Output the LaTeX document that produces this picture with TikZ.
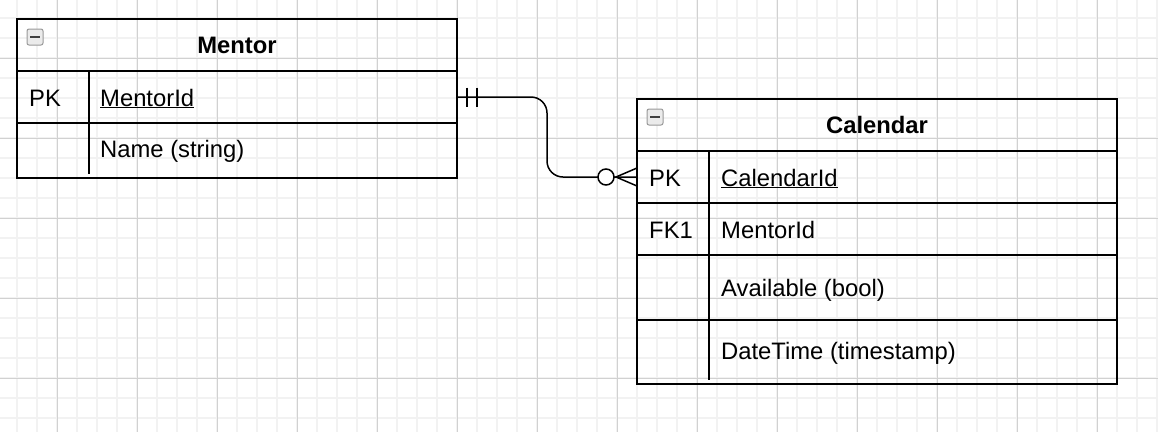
\documentclass[tikz,border=0pt]{standalone}
\usepackage{fontspec}
\setmainfont{Liberation Sans}
\usetikzlibrary{calc,positioning,shapes}

\begin{document}
\begin{tikzpicture}[x=1pt, y=-1pt]
\tikzstyle{minorgrid}=[draw=black!5, line width=2pt]
\tikzstyle{majorgrid}=[draw=black!18, line width=1pt]
\tikzstyle{table}=[rectangle, draw, line width=1.5pt, inner sep=0pt, outer sep=0pt,
                   anchor=north west, minimum width=440pt, minimum height=52pt,
                   font=\fontsize{23.8}{28}\selectfont\bfseries]
\tikzstyle{field}=[inner sep=0pt, anchor=base west, font=\fontsize{23.8}{28}\selectfont]
\tikzstyle{collapse}=[rectangle, rounded corners=2pt, draw=black!40, fill=black!8,
                      line width=1pt, minimum size=16pt, inner sep=0pt,
                      path picture={\draw[line width=2.5pt, black!75]
                        ([xshift=-5pt]path picture bounding box.center) --
                        ([xshift=5pt]path picture bounding box.center);}]
\tikzstyle{link}=[line width=1.5pt]

\useasboundingbox (0,0) rectangle (1158,432);
\fill[white] (0,0) rectangle (1158,432);
\foreach \x in {17,37,...,1157} \draw[minorgrid] (\x,0) -- (\x,432);
\foreach \y in {18,38,...,418} \draw[minorgrid] (0,\y) -- (1158,\y);
\foreach \x in {57,137,...,1137} \draw[majorgrid] (\x,0) -- (\x,432);
\foreach \y in {58,138,...,378} \draw[majorgrid] (0,\y) -- (1158,\y);

\node[table] (mentor) at (17,19) {Mentor};
\node[table, below=0pt of mentor] (mentor-pk) {};
\node[table, below=0pt of mentor-pk, minimum height=55pt] (mentor-name) {};
\draw[link] ($(mentor-pk.north west)+(72,0)$) -- ($(mentor-name.south west)+(72,-4)$);
\node[collapse] (mentor-icon) at (35,37) {};
\node[field] (mentor-pk-key) at (29,106) {PK};
\node[field] (mentor-pk-attr) at (100,106) {\underline{MentorId}};
\node[field] (mentor-name-attr) at (100,157) {Name (string)};

\tikzstyle{wide}=[minimum width=480pt]
\node[table, wide] (calendar) at (637,99) {Calendar};
\node[table, wide, below=0pt of calendar] (cal-pk) {};
\node[table, wide, below=0pt of cal-pk] (cal-fk) {};
\node[table, wide, below=0pt of cal-fk, minimum height=65pt] (cal-avail) {};
\node[table, wide, below=0pt of cal-avail, minimum height=64pt] (cal-time) {};
\draw[link] ($(cal-pk.north west)+(72,0)$) -- ($(cal-time.south west)+(72,-4)$);
\node[collapse] (cal-icon) at (655,117) {};
\node[field] (cal-pk-key) at (649,186) {PK};
\node[field] (cal-pk-attr) at (721,186) {\underline{CalendarId}};
\node[field] (cal-fk-key) at (649,238) {FK1};
\node[field] (cal-fk-attr) at (721,238) {MentorId};
\node[field] (cal-avail-attr) at (721,296) {Available (bool)};
\node[field] (cal-time-attr) at (721,359) {DateTime (timestamp)};

\draw[link, rounded corners=16pt] (mentor-pk.east) -- ++(90,0) |- (cal-pk.west);
\draw[link] ($(mentor-pk.east)+(10,-9.5)$) -- ++(0,19);
\draw[link] ($(mentor-pk.east)+(20,-9.5)$) -- ++(0,19);
\node[circle, draw, fill=white, line width=1.5pt, minimum size=16pt, inner sep=0pt]
  (zero) at ($(cal-pk.west)+(-31,0)$) {};
\draw[link] ($(cal-pk.west)+(0,-9)$) -- ($(cal-pk.west)+(-21,0)$) -- ($(cal-pk.west)+(0,9)$);
\end{tikzpicture}
\end{document}
